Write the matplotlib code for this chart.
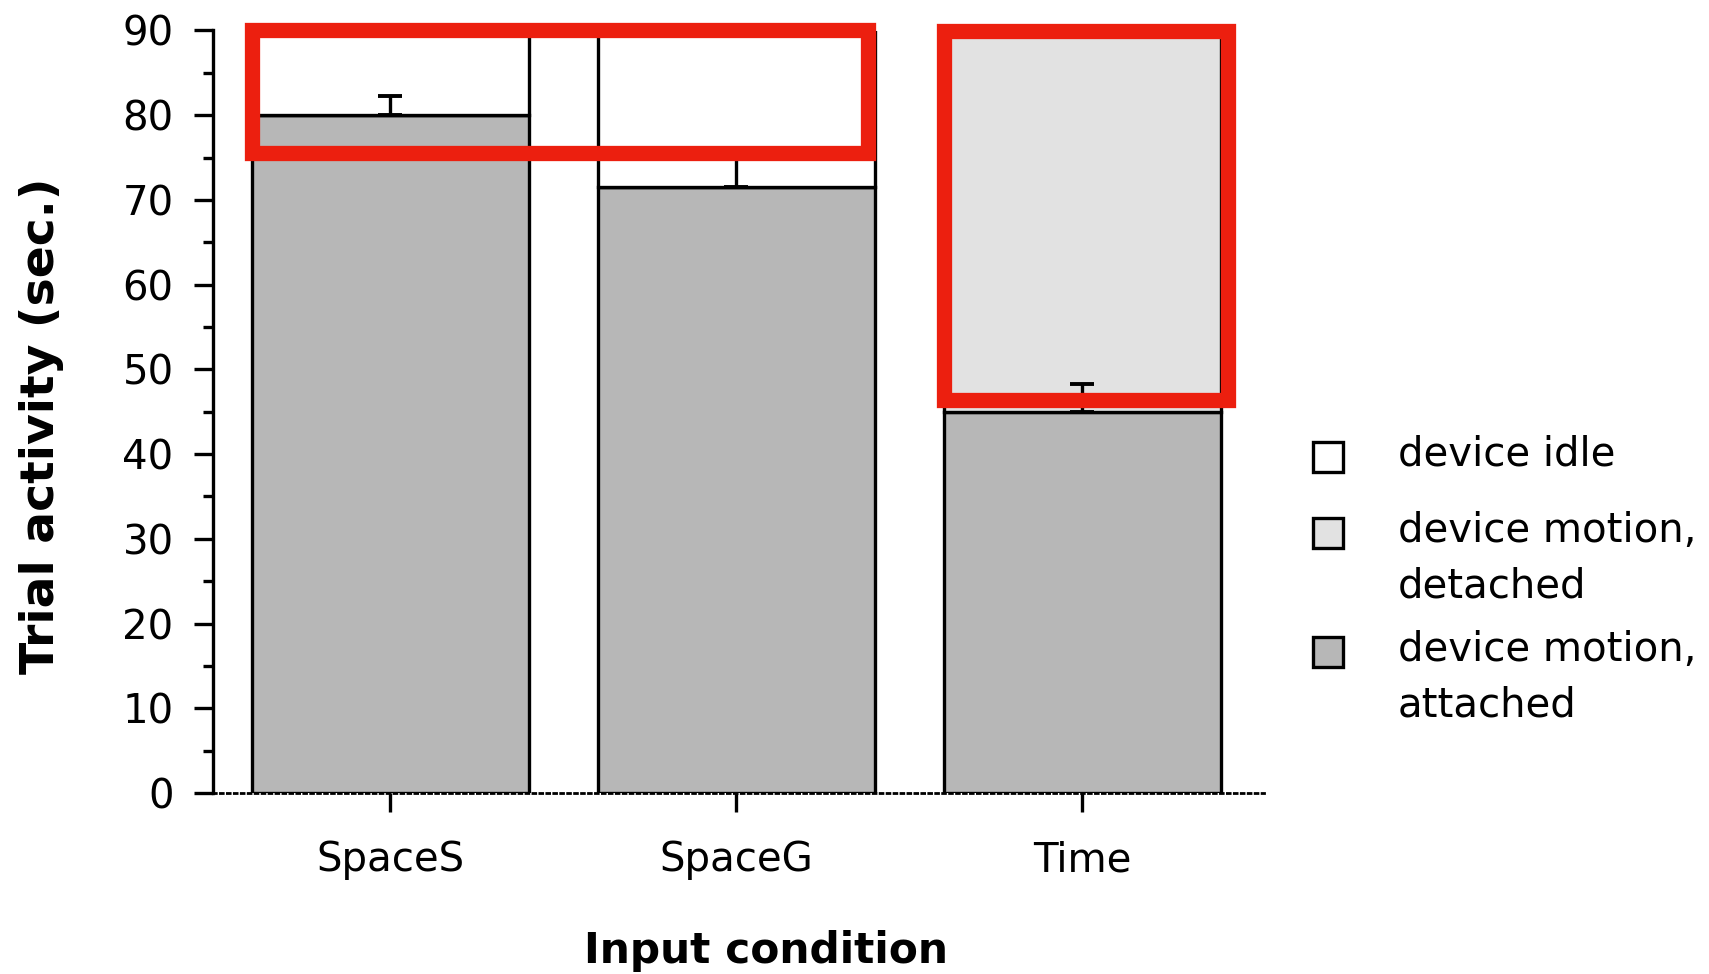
import matplotlib
matplotlib.use("Agg")
import matplotlib.pyplot as plt
import matplotlib.patches as mpatches
from matplotlib.ticker import MultipleLocator
import numpy as np

# data (seconds)
conditions = ["SpaceS", "SpaceG", "Time"]
attached = [80.0, 71.5, 45.0]
attached_err = [2.3, 4.5, 3.3]
detached = [0.0, 0.0, 44.5]
idle = [10.0, 18.5, 0.5]

series_labels = ["device idle", "device motion,\ndetached", "device motion,\nattached"]
series_colors = ["#ffffff", "#e2e2e2", "#b7b7b7"]

# highlighted regions (x in category units, y in seconds)
highlights = [(-0.40, 75.6, 1.38, 90.1), (1.60, 46.4, 2.42, 89.9)]

W, H = 1709, 974
fig = plt.figure(figsize=(W / 100, H / 100), dpi=100)
ax = fig.add_axes([212.5 / W, 1 - 793 / H, (1264 - 212.5) / W, (793 - 30.5) / H])

x = np.arange(len(conditions))
bw = 0.80
edge = dict(edgecolor="black", linewidth=2.4)

ax.bar(x, attached, bw, color=series_colors[2], zorder=2, **edge)
ax.bar(x, detached, bw, bottom=attached, color=series_colors[1], zorder=2, **edge)
bottom_idle = np.array(attached) + np.array(detached)
ax.bar(x, idle, bw, bottom=bottom_idle, color=series_colors[0], zorder=2, **edge)

# upper error bars on the attached segment
ax.errorbar(x, attached, yerr=[np.zeros(len(x)), attached_err], fmt="none",
            ecolor="black", elinewidth=2.4, capsize=8.5, capthick=2.8, zorder=3)

ax.set_xlim(-0.514, 2.525)
ax.set_ylim(0, 90)

ax.spines["top"].set_visible(False)
ax.spines["right"].set_visible(False)
ax.spines["left"].set_linewidth(2.4)
ax.spines["bottom"].set_linestyle((0, (1, 1.5)))
ax.spines["bottom"].set_linewidth(2.0)

ax.yaxis.set_major_locator(MultipleLocator(10))
ax.yaxis.set_minor_locator(MultipleLocator(5))
ax.tick_params(axis="y", which="major", length=14, width=2.4, pad=14, labelsize=29)
ax.tick_params(axis="y", which="minor", length=7, width=2.4)
ax.set_xticks(x)
ax.set_xticklabels(conditions)
ax.tick_params(axis="x", length=14, width=2.4, pad=20, labelsize=29)

ax.set_xlabel("Input condition", fontsize=30.5, fontweight="bold")
ax.xaxis.set_label_coords(0.526, -0.207)
ax.xaxis.label.set_va("center")
ax.set_ylabel("Trial activity (sec.)", fontsize=34, fontweight="bold")
ax.yaxis.set_label_coords(-0.163, 0.481)
ax.yaxis.label.set_va("center")

# hand-drawn style red highlight boxes
for x0, y0, x1, y1 in highlights:
    ax.add_patch(mpatches.Rectangle((x0, y0), x1 - x0, y1 - y0, fill=False,
                                    edgecolor="#ec1f0f", linewidth=11,
                                    joinstyle="miter", clip_on=False, zorder=5))

# legend, swatch aligned with the first text line of each entry
legend_rows = [457, 533, 652]
for label, color, row in zip(series_labels, series_colors, legend_rows):
    fig.patches.append(mpatches.Rectangle(((1328 - 15) / W, 1 - (row + 15) / H), 30 / W, 30 / H,
                                          facecolor=color, edgecolor="black", linewidth=2.4,
                                          transform=fig.transFigure, figure=fig))
    fig.text(1398 / W, 1 - (row - 22) / H, label, fontsize=29, va="top", ha="left",
             linespacing=1.5)

fig.savefig("out.png", dpi=100)
